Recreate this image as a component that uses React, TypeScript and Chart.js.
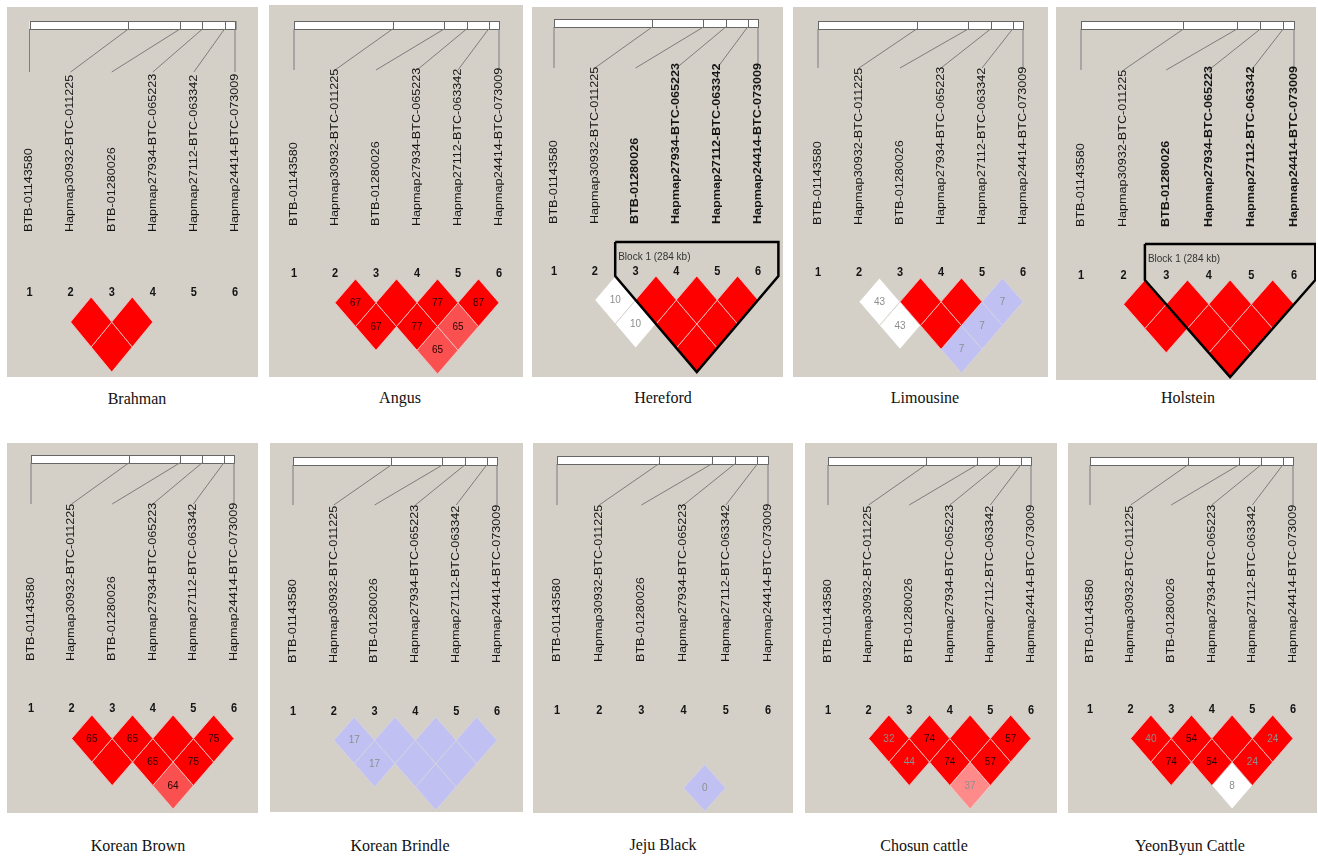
import React, { useEffect, useRef } from 'react';
import { Chart, registerables } from 'chart.js';

Chart.register(...registerables);

// SNP markers along the region (same for every breed)
const markerNames = [
  'BTB-01143580',
  'Hapmap30932-BTC-011225',
  'BTB-01280026',
  'Hapmap27934-BTC-065223',
  'Hapmap27112-BTC-063342',
  'Hapmap24414-BTC-073009',
];
const markerNumbers = ['1', '2', '3', '4', '5', '6'];
// relative physical position of each marker (kb)
const markerPositionsKb = [0, 511, 778, 894, 1008, 1062];

const breeds = [
  'Brahman', 'Angus', 'Hereford', 'Limousine', 'Holstein',
  'Korean Brown', 'Korean Brindle', 'Jeju Black', 'Chosun cattle', 'YeonByun Cattle',
];

// marker pairs (1-based) in the order the LD values are listed
const pairFirst = [2, 3, 4, 5, 2, 3, 4, 3];
const pairSecond = [3, 4, 5, 6, 4, 5, 6, 6];

// D' x 100 for each pair (null = pair not plotted)
const brahmanD = [100, 100, null, null, 100, null, null, null];
const angusD = [67, 100, 77, 87, 67, 77, 65, 65];
const herefordD = [10, 100, 100, 100, 10, 100, 100, 100];
const limousineD = [43, 100, 100, 7, 43, 100, 7, 7];
const holsteinD = [100, 100, 100, 100, 100, 100, 100, 100];
const koreanBrownD = [65, 65, 100, 75, 100, 65, 75, 64];
const koreanBrindleD = [17, 100, 100, 100, 17, 100, 100, 100];
const jejuBlackD = [null, null, null, null, null, null, null, 0];
const chosunD = [32, 74, 100, 57, 44, 74, 57, 37];
const yeonByunD = [40, 54, 100, 24, 74, 54, 24, 8];

// LD colour class for each pair: r strong, p moderate, k weak, w white, b D'=1 with LOD<2
const brahmanC = ['r', 'r', null, null, 'r', null, null, null];
const angusC = ['r', 'r', 'r', 'r', 'r', 'r', 'p', 'p'];
const herefordC = ['w', 'r', 'r', 'r', 'w', 'r', 'r', 'r'];
const limousineC = ['w', 'r', 'r', 'b', 'w', 'r', 'b', 'b'];
const holsteinC = ['r', 'r', 'r', 'r', 'r', 'r', 'r', 'r'];
const koreanBrownC = ['r', 'r', 'r', 'r', 'r', 'r', 'r', 'p'];
const koreanBrindleC = ['b', 'b', 'b', 'b', 'b', 'b', 'b', 'b'];
const jejuBlackC = [null, null, null, null, null, null, null, 'b'];
const chosunC = ['r', 'r', 'r', 'r', 'r', 'r', 'r', 'k'];
const yeonByunC = ['r', 'r', 'r', 'r', 'r', 'r', 'r', 'w'];

const breedD = [brahmanD, angusD, herefordD, limousineD, holsteinD, koreanBrownD, koreanBrindleD, jejuBlackD, chosunD, yeonByunD];
const breedC = [brahmanC, angusC, herefordC, limousineC, holsteinC, koreanBrownC, koreanBrindleC, jejuBlackC, chosunC, yeonByunC];

// haplotype blocks (first and last marker), null when no block
const blockFirst = [null, null, 3, null, 3, null, null, null, null, null];
const blockLast = [null, null, 6, null, 6, null, null, null, null, null];

const ldColours: Record<string, string> = {
  r: '#ff0000',
  p: '#fa5050',
  k: '#ff8a8a',
  w: '#ffffff',
  b: '#c0c0f2',
};
const ldBorders: Record<string, string> = {
  r: 'rgba(240,195,195,0.85)',
  p: 'rgba(240,195,195,0.85)',
  k: 'rgba(240,205,205,0.85)',
  w: 'rgba(212,208,200,0.9)',
  b: 'rgba(214,212,222,0.9)',
};

// page placement of each panel
const layouts = [
  { box: [7, 7, 258, 377], m1: 29.5, m6: 235, rulerTop: 21, rulerBottom: 29, lineEnd: 72, labelBottom: 232, numY: 293, yTop: 297, h: 25, capX: 137, capY: 399 },
  { box: [269, 5, 523, 377], m1: 294, m6: 499, rulerTop: 21, rulerBottom: 29, lineEnd: 70, labelBottom: 226, numY: 274, yTop: 279, h: 23.75, capX: 400, capY: 398 },
  { box: [532, 7, 783, 377], m1: 554, m6: 758, rulerTop: 19, rulerBottom: 27, lineEnd: 68, labelBottom: 224, numY: 272, yTop: 276, h: 24, capX: 663, capY: 398, blockTop: 242, blockLabelY: 257 },
  { box: [793, 7, 1048, 377], m1: 818, m6: 1023, rulerTop: 21, rulerBottom: 29, lineEnd: 68, labelBottom: 225, numY: 273, yTop: 278, h: 23.75, capX: 925, capY: 398 },
  { box: [1056, 7, 1316, 380], m1: 1081, m6: 1294, rulerTop: 21, rulerBottom: 29, lineEnd: 70, labelBottom: 227, numY: 276, yTop: 280, h: 24.25, capX: 1188, capY: 398, blockTop: 244, blockLabelY: 259 },
  { box: [7, 443, 258, 813], m1: 31, m6: 234, rulerTop: 455, rulerBottom: 463, lineEnd: 504, labelBottom: 661, numY: 709, yTop: 715, h: 23.5, capX: 138, capY: 846 },
  { box: [270, 443, 523, 812], m1: 293, m6: 497, rulerTop: 457, rulerBottom: 465, lineEnd: 505, labelBottom: 663, numY: 712, yTop: 717, h: 23.3, capX: 400, capY: 846 },
  { box: [533, 443, 793, 813], m1: 557, m6: 768, rulerTop: 456, rulerBottom: 464, lineEnd: 505, labelBottom: 662, numY: 711, yTop: 718, h: 23.3, capX: 663, capY: 845 },
  { box: [805, 443, 1057, 813], m1: 828, m6: 1031, rulerTop: 457, rulerBottom: 465, lineEnd: 505, labelBottom: 663, numY: 711, yTop: 715, h: 23.5, capX: 924, capY: 846 },
  { box: [1068, 443, 1317, 813], m1: 1090, m6: 1293, rulerTop: 457, rulerBottom: 465, lineEnd: 505, labelBottom: 663, numY: 710, yTop: 715, h: 23.5, capX: 1190, capY: 846 },
];

const SANS = '"Liberation Sans", Arial, Helvetica, sans-serif';
const STRETCH = 1.2;
const PANEL_BG = '#d4d0c8';

function vText(ctx: CanvasRenderingContext2D, text: string, x: number, yBottom: number, font: string, color: string) {
  ctx.save();
  ctx.translate(x, yBottom);
  ctx.scale(1, STRETCH);
  ctx.rotate(-Math.PI / 2);
  ctx.font = font;
  ctx.fillStyle = color;
  ctx.textAlign = 'left';
  ctx.textBaseline = 'middle';
  ctx.fillText(text, 0, 0);
  ctx.restore();
}

function hText(ctx: CanvasRenderingContext2D, text: string, x: number, y: number, font: string, color: string, align: CanvasTextAlign = 'center', stretch = STRETCH) {
  ctx.save();
  ctx.translate(x, y);
  ctx.scale(1, stretch);
  ctx.font = font;
  ctx.fillStyle = color;
  ctx.textAlign = align;
  ctx.textBaseline = 'middle';
  ctx.fillText(text, 0, 0);
  ctx.restore();
}

function LDPanel({ idx }: { idx: number }) {
  const ref = useRef<HTMLCanvasElement | null>(null);
  const L: any = layouts[idx];
  const [bx0, by0, bx1, by1] = L.box;
  const W = bx1 - bx0;
  const H = by1 - by0;

  useEffect(() => {
    if (!ref.current) return;
    const dVals = breedD[idx];
    const cVals = breedC[idx];
    const bFirst = blockFirst[idx];
    const bLast = blockLast[idx];

    // marker index -> x, depth (j - i) -> y
    const s = (L.m6 - L.m1) / 5;
    const xmin = 1 - (L.m1 - bx0) / s;
    const xmax = xmin + W / s;
    const ymin = -(L.yTop - by0) / L.h;
    const ymax = ymin + H / L.h;

    const datasets: any[] = [];
    pairFirst.forEach((i, k) => {
      const c = cVals[k];
      if (c == null) return;
      const j = pairSecond[k];
      const d = j - i;
      const cx = (i + j) / 2;
      datasets.push({
        data: [
          { x: cx, y: d - 1 },
          { x: cx + 0.5, y: d },
          { x: cx, y: d + 1 },
          { x: cx - 0.5, y: d },
          { x: cx, y: d - 1 },
        ],
        showLine: true,
        fill: 'shape',
        backgroundColor: ldColours[c],
        borderColor: ldBorders[c],
        borderWidth: 1,
        pointRadius: 0,
        pointHoverRadius: 0,
        order: 2,
        ldValue: dVals[k],
        ldX: cx,
        ldY: d,
      });
    });

    if (bFirst != null && bLast != null) {
      const yb = (L.blockTop - L.yTop) / L.h;
      const left = bFirst - 0.5;
      const right = bLast + 0.5;
      datasets.push({
        data: [
          { x: left, y: yb },
          { x: left, y: 0 },
          { x: (bFirst + bLast) / 2, y: bLast - bFirst + 1 },
          { x: right, y: 0 },
          { x: right, y: yb },
          { x: left, y: yb },
        ],
        showLine: true,
        fill: false,
        borderColor: '#000000',
        borderWidth: 2.5,
        borderJoinStyle: 'miter',
        pointRadius: 0,
        pointHoverRadius: 0,
        order: 1,
      });
    }

    const panelPlugin = {
      id: 'ldPanel',
      beforeDraw(chart: any) {
        const ctx = chart.ctx;
        ctx.save();
        ctx.fillStyle = PANEL_BG;
        ctx.fillRect(0, 0, chart.width, chart.height);
        ctx.restore();
      },
      beforeDatasetsDraw(chart: any) {
        const ctx: CanvasRenderingContext2D = chart.ctx;
        const xs = chart.scales.x;
        const mx = (i: number) => xs.getPixelForValue(i);
        const kbMax = markerPositionsKb[markerPositionsKb.length - 1];
        const rx = (kb: number) => mx(1) + (kb / kbMax) * (mx(6) - mx(1));
        const rTop = L.rulerTop - by0;
        const rBot = L.rulerBottom - by0;
        const lineEnd = L.lineEnd - by0;

        ctx.save();
        // physical map ruler
        ctx.fillStyle = '#ffffff';
        ctx.fillRect(rx(0), rTop, rx(kbMax) - rx(0), rBot - rTop);
        ctx.strokeStyle = '#666666';
        ctx.lineWidth = 1;
        ctx.strokeRect(Math.round(rx(0)) + 0.5, rTop + 0.5, rx(kbMax) - rx(0), rBot - rTop);
        markerPositionsKb.forEach((kb) => {
          const x = Math.round(rx(kb)) + 0.5;
          ctx.beginPath();
          ctx.moveTo(x, rTop);
          ctx.lineTo(x, rBot);
          ctx.stroke();
        });
        // connectors from map position to marker column
        ctx.strokeStyle = '#7d7d7d';
        markerPositionsKb.forEach((kb, k) => {
          ctx.beginPath();
          ctx.moveTo(rx(kb), rBot);
          ctx.lineTo(mx(k + 1), lineEnd);
          ctx.stroke();
        });
        ctx.restore();

        // marker names and numbers
        markerNames.forEach((name, k) => {
          const inBlock = bFirst != null && k + 1 >= bFirst && k + 1 <= (bLast as number);
          const font = inBlock ? `bold 10.5px ${SANS}` : `10.5px ${SANS}`;
          vText(ctx, name, mx(k + 1), L.labelBottom - by0, font, '#141414');
          hText(ctx, markerNumbers[k], mx(k + 1), L.numY - by0, `bold 11px ${SANS}`, '#141414', 'center', 1.15);
        });

        if (bFirst != null && bLast != null) {
          const size = markerPositionsKb[bLast - 1] - markerPositionsKb[bFirst - 1];
          hText(ctx, `Block 1 (${size} kb)`, mx(bFirst - 0.5) + 3, L.blockLabelY - by0, `10px ${SANS}`, '#333333', 'left', 1.15);
        }
      },
      afterDatasetsDraw(chart: any) {
        const ctx: CanvasRenderingContext2D = chart.ctx;
        const xs = chart.scales.x;
        const ys = chart.scales.y;
        chart.data.datasets.forEach((ds: any) => {
          if (ds.ldValue == null || ds.ldValue >= 100) return;
          const colour = ds.ldValue >= 50 ? '#2a0000' : '#8e8e8e';
          hText(ctx, String(ds.ldValue), xs.getPixelForValue(ds.ldX), ys.getPixelForValue(ds.ldY), `10px ${SANS}`, colour, 'center', 1.15);
        });
      },
    };

    const chart = new Chart(ref.current, {
      type: 'scatter',
      data: { datasets },
      options: {
        responsive: false,
        maintainAspectRatio: false,
        animation: false,
        events: [],
        layout: { padding: 0, autoPadding: false },
        plugins: { legend: { display: false }, tooltip: { enabled: false }, title: { display: false } },
        scales: {
          x: { type: 'linear', display: false, min: xmin, max: xmax },
          y: { type: 'linear', display: false, min: ymin, max: ymax, reverse: true },
        },
      } as any,
      plugins: [panelPlugin],
    });
    return () => chart.destroy();
  }, [idx]);

  return (
    <>
      <canvas
        ref={ref}
        width={W}
        height={H}
        style={{ position: 'absolute', left: bx0, top: by0, width: W, height: H }}
      />
      <div
        style={{
          position: 'absolute',
          left: L.capX - 110,
          top: L.capY - 11,
          width: 220,
          height: 22,
          lineHeight: '22px',
          textAlign: 'center',
          fontFamily: '"Liberation Serif", "Times New Roman", Times, serif',
          fontSize: 16,
          color: '#111111',
          whiteSpace: 'nowrap',
        }}
      >
        {breeds[idx]}
      </div>
    </>
  );
}

export default function App() {
  return (
    <div style={{ position: 'absolute', left: 0, top: 0, width: 1318, height: 860, background: '#ffffff', overflow: 'hidden' }}>
      {breeds.map((b, i) => (
        <LDPanel key={b} idx={i} />
      ))}
    </div>
  );
}
